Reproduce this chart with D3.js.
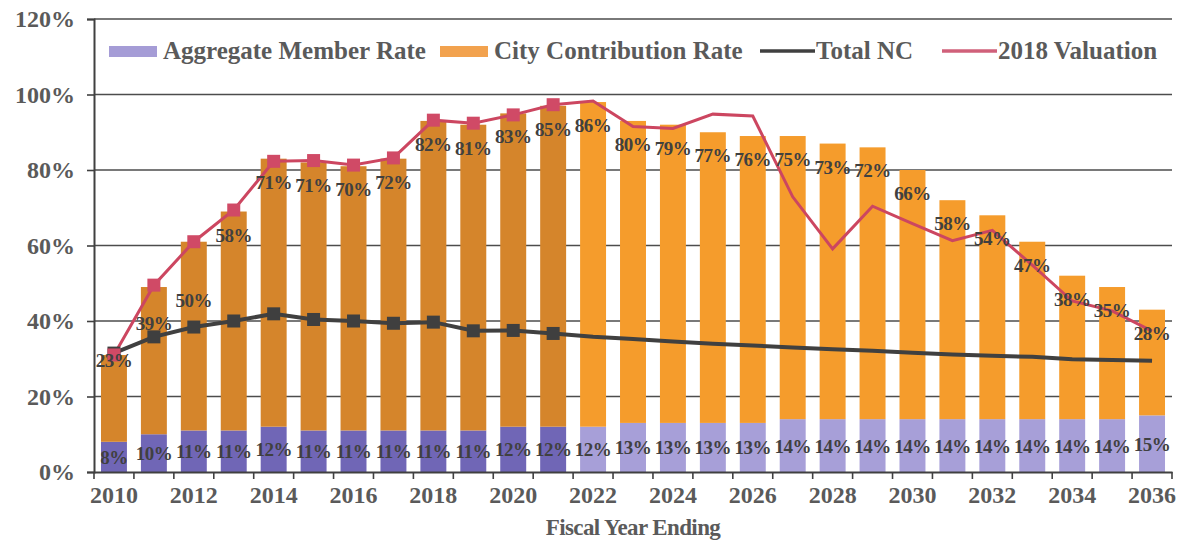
<!DOCTYPE html>
<html>
<head>
<meta charset="utf-8">
<script src="https://cdn.jsdelivr.net/npm/d3@7"></script>
<style>
  body { margin: 0; background: #fff; }
  svg { display: block; }
  text { font-family: "Liberation Serif", "Times New Roman", serif; font-weight: bold; }
</style>
</head>
<body>
<svg id="chart"></svg>
<script>
// fiscal years and rates (% of pay)
const years = [2010, 2011, 2012, 2013, 2014, 2015, 2016, 2017, 2018, 2019, 2020, 2021, 2022,
  2023, 2024, 2025, 2026, 2027, 2028, 2029, 2030, 2031, 2032, 2033, 2034, 2035, 2036];
const memberRate = [8, 10, 11, 11, 12, 11, 11, 11, 11, 11, 12, 12, 12,
  13, 13, 13, 13, 14, 14, 14, 14, 14, 14, 14, 14, 14, 15];
const cityRate = [23, 39, 50, 58, 71, 71, 70, 72, 82, 81, 83, 85, 86,
  80, 79, 77, 76, 75, 73, 72, 66, 58, 54, 47, 38, 35, 28];
const totalNC = [31.5, 35.8, 38.4, 40, 41.9, 40.4, 40, 39.4, 39.7, 37.4, 37.5, 36.7, 35.8,
  35.2, 34.6, 34, 33.5, 33, 32.5, 32.1, 31.6, 31.1, 30.8, 30.5, 29.9, 29.7, 29.5];
const valuation2018 = [31, 49.5, 61, 69.4, 82.3, 82.5, 81.3, 83.2, 93.2, 92.4, 94.6, 97.3, 98.3,
  91.5, 91, 94.8, 94.3, 72.9, 59.1, 70.4, 65.8, 61.3, 64, 54.8, 45.3, 42.7, 37.3];
const yTicks = [0, 20, 40, 60, 80, 100, 120];
const lastActual = 2021;

// a few city labels were dragged by hand in the original
const cityLabelNudge = { 2010: -18, 2011: 13, 2012: 35 };

const width = 1182, height = 542;
const plotLeft = 94, plotRight = 1172, plotTop = 19, plotBottom = 472;

const svg = d3.select("#chart").attr("width", width).attr("height", height);

const x = d3.scaleBand().domain(years).range([plotLeft, plotRight]).paddingInner(0.35).paddingOuter(0.175);
const y = d3.scaleLinear().domain([0, 120]).range([plotBottom, plotTop]);

const rows = years.map((yr, i) => ({
  year: yr, member: memberRate[i], city: cityRate[i],
  nc: totalNC[i], val: valuation2018[i], actual: yr <= lastActual
}));

// gridlines
svg.append("g").selectAll("line")
  .data(yTicks.filter(d => d > 0))
  .enter().append("line")
  .attr("x1", plotLeft).attr("x2", plotRight)
  .attr("y1", d => y(d)).attr("y2", d => y(d))
  .attr("stroke", "#4d4d4d").attr("stroke-width", 1.6);

// stacked bars
const bars = svg.append("g");
bars.selectAll(".member").data(rows).enter().append("rect")
  .attr("x", d => x(d.year)).attr("width", x.bandwidth())
  .attr("y", d => y(d.member)).attr("height", d => y(0) - y(d.member))
  .attr("fill", d => d.actual ? "#7066b6" : "#a79fd8");
bars.selectAll(".city").data(rows).enter().append("rect")
  .attr("x", d => x(d.year)).attr("width", x.bandwidth())
  .attr("y", d => y(d.member + d.city)).attr("height", d => y(d.member) - y(d.member + d.city))
  .attr("fill", d => d.actual ? "#d5852b" : "#f59c2c");

// axes
const yAxis = svg.append("g").attr("transform", `translate(${plotLeft},0)`)
  .call(d3.axisLeft(y).tickValues(yTicks).tickFormat(d => d + "%").tickSize(7).tickPadding(12));
yAxis.select(".domain").attr("stroke", "#404040").attr("stroke-width", 2);
yAxis.selectAll(".tick line").attr("stroke", "#404040").attr("stroke-width", 1.6);
yAxis.selectAll("text").attr("font-size", 24).attr("fill", "#5a5a5a")
  .attr("font-family", "Liberation Serif, serif");

const xAxis = svg.append("g").attr("transform", `translate(0,${plotBottom})`)
  .call(d3.axisBottom(x).tickValues(years.filter(d => d % 2 === 0)).tickSize(0).tickPadding(14));
xAxis.select(".domain").attr("stroke", "#404040").attr("stroke-width", 2);
xAxis.selectAll("text").attr("font-size", 24).attr("fill", "#5a5a5a")
  .attr("font-family", "Liberation Serif, serif");

// ticks between categories
svg.append("g").selectAll("line")
  .data(d3.range(years.length + 1))
  .enter().append("line")
  .attr("x1", i => plotLeft + i * x.step()).attr("x2", i => plotLeft + i * x.step())
  .attr("y1", plotBottom).attr("y2", plotBottom + 7)
  .attr("stroke", "#404040").attr("stroke-width", 1.6);

svg.append("text")
  .attr("x", (plotLeft + plotRight) / 2).attr("y", 535)
  .attr("text-anchor", "middle").attr("font-size", 23).attr("fill", "#5a5a5a")
  .attr("letter-spacing", -0.6)
  .text("Fiscal Year Ending");

// lines
const cx = d => x(d.year) + x.bandwidth() / 2;
const ncLine = d3.line().x(cx).y(d => y(d.nc));
const valLine = d3.line().x(cx).y(d => y(d.val));

svg.append("path").datum(rows).attr("d", ncLine)
  .attr("fill", "none").attr("stroke", "#404040").attr("stroke-width", 4);
svg.append("path").datum(rows).attr("d", valLine)
  .attr("fill", "none").attr("stroke", "#cc4660").attr("stroke-width", 3);

const m = 13;
svg.append("g").selectAll("rect").data(rows.filter(d => d.actual)).enter().append("rect")
  .attr("x", d => cx(d) - m / 2).attr("y", d => y(d.nc) - m / 2)
  .attr("width", m).attr("height", m).attr("fill", "#3f3f3f");
svg.append("g").selectAll("rect").data(rows.filter(d => d.actual)).enter().append("rect")
  .attr("x", d => cx(d) - m / 2).attr("y", d => y(d.val) - m / 2)
  .attr("width", m).attr("height", m).attr("fill", "#d04a66");

// data labels
const labels = svg.append("g").attr("font-size", 19).attr("fill", "#404040")
  .attr("text-anchor", "middle").attr("letter-spacing", -0.5);
labels.selectAll(".ml").data(rows).enter().append("text")
  .attr("x", cx).attr("y", d => y(d.member / 2) + 7)
  .text(d => d.member + "%");
labels.selectAll(".cl").data(rows).enter().append("text")
  .attr("x", cx).attr("y", d => y(d.member + d.city) + 30 + (cityLabelNudge[d.year] || 0))
  .text(d => d.city + "%");

// legend
const legend = [
  { name: "Aggregate Member Rate", type: "box", color: "#a59cd6", x: 109 },
  { name: "City Contribution Rate", type: "box", color: "#f2a24e", x: 440 },
  { name: "Total NC", type: "line", color: "#404040", x: 760 },
  { name: "2018 Valuation", type: "line", color: "#d0607a", x: 942 }
];
const lg = svg.append("g").attr("transform", "translate(0,51)");
legend.forEach(l => {
  if (l.type === "box") {
    lg.append("rect").attr("x", l.x).attr("y", -5).attr("width", 48).attr("height", 11).attr("fill", l.color);
  } else {
    lg.append("line").attr("x1", l.x).attr("x2", l.x + 55).attr("y1", 0).attr("y2", 0)
      .attr("stroke", l.color).attr("stroke-width", 3.5);
  }
  lg.append("text").attr("x", l.x + (l.type === "box" ? 54 : 56)).attr("y", 8)
    .attr("font-size", 25).attr("fill", "#5a5a5a").text(l.name);
});
</script>
</body>
</html>
